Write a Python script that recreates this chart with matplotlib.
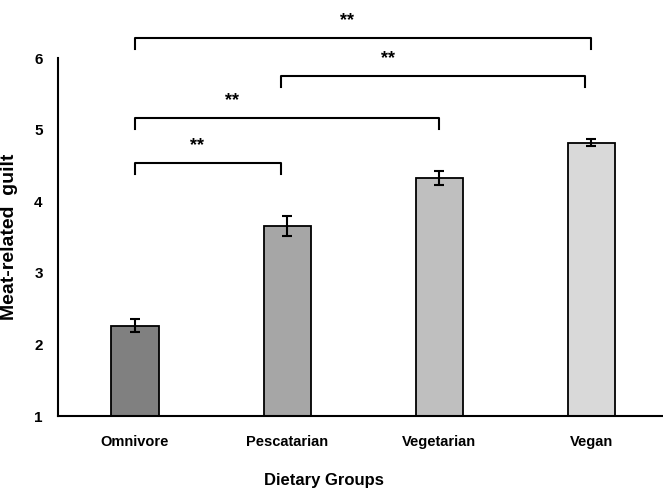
import matplotlib.pyplot as plt
import numpy as np

groups = ['Omnivore', 'Pescatarian', 'Vegetarian', 'Vegan']
means = [2.26, 3.66, 4.32, 4.82]
errs = [0.09, 0.14, 0.10, 0.05]
colors = ['#808080', '#a6a6a6', '#bfbfbf', '#d9d9d9']

# significance brackets: (left group, right group, bar height, star x)
brackets = [(0, 3, 6.28, 1.39), (0.96, 2.96, 5.75, 1.66),
            (0, 2, 5.16, 0.64), (0, 0.96, 4.53, 0.41)]
stars = ['**', '**', '**', '**']

plt.rcParams['font.family'] = ['Liberation Sans', 'DejaVu Sans']

fig = plt.figure(figsize=(6.63, 4.9), dpi=100)
ax = fig.add_axes([0.0875, 0.151, 0.9125, 0.7306])

x = np.arange(len(groups))
ax.bar(x, means, width=0.31, bottom=0, color=colors, edgecolor='black', linewidth=1.3, zorder=2)
ax.errorbar(x, means, yerr=errs, fmt='none', ecolor='black', elinewidth=1.5, capsize=3.5, capthick=1.5, zorder=3)

ax.set_ylim(1, 6)
ax.set_xlim(-0.506, 3.47)
ax.set_yticks([1, 2, 3, 4, 5, 6])
ax.set_xticks(x)
ax.set_xticklabels(groups, fontsize=10.5, fontweight='bold')
ax.set_yticklabels([str(v) for v in range(1, 7)], fontsize=11, fontweight='bold')
ax.tick_params(axis='both', length=0)
ax.tick_params(axis='x', pad=14)
ax.tick_params(axis='y', pad=11)

for s in ['top', 'right']:
    ax.spines[s].set_visible(False)
ax.spines['left'].set_linewidth(1.5)
ax.spines['bottom'].set_linewidth(1.5)

for (x0, x1, h, sx), st in zip(brackets, stars):
    ax.plot([x0, x0, x1, x1], [h - 0.15, h, h, h - 0.15], color='black', lw=1.5, clip_on=False)
    ax.text(sx, h + 0.24, st, ha='center', va='center', fontsize=13, fontweight='bold')

ax.set_ylabel('Meat-related  guilt', fontsize=14, fontweight='bold')
ax.yaxis.set_label_coords(-0.066, 0.5)
ax.set_xlabel('Dietary Groups', fontsize=12, fontweight='bold', va='center')
ax.xaxis.set_label_coords(0.44, -0.18)

fig.savefig('out.png', dpi=100)
